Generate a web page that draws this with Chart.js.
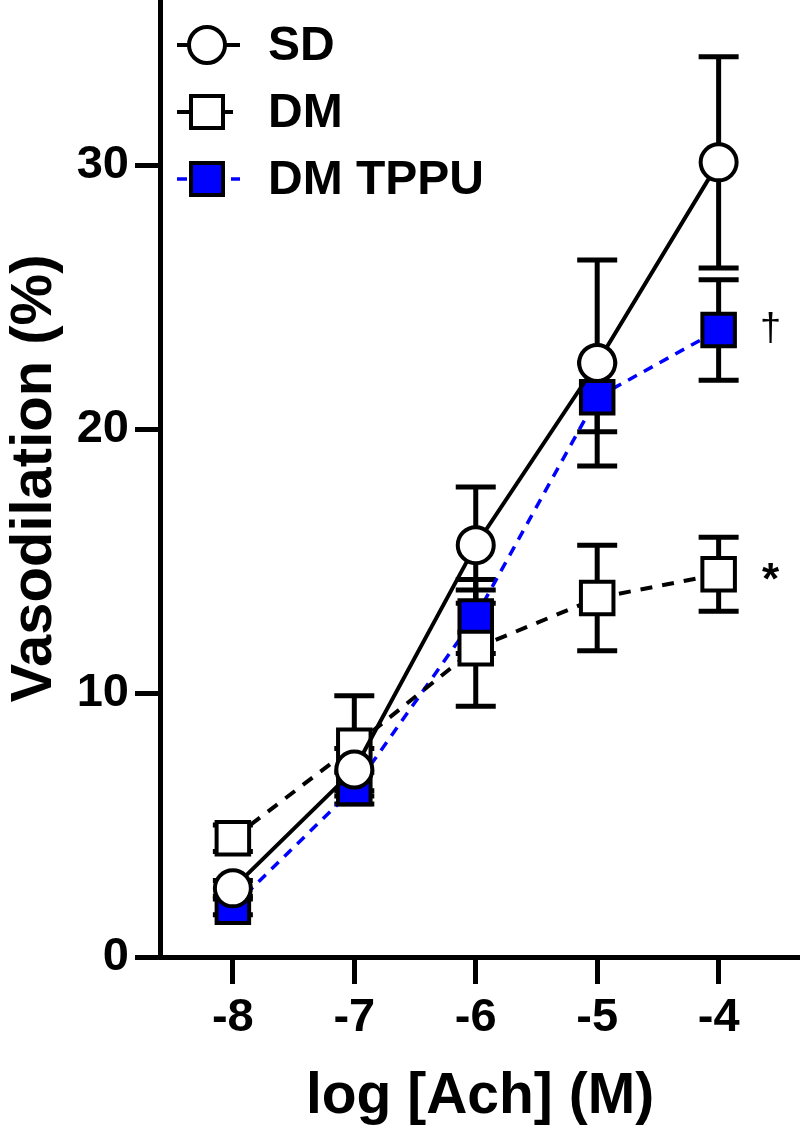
<!DOCTYPE html>
<html>
<head>
<meta charset="utf-8">
<script src="https://cdn.jsdelivr.net/npm/chart.js@4/dist/chart.umd.min.js"></script>
<style>
  html, body { margin: 0; padding: 0; background: #fff; }
  #wrap { width: 800px; height: 1131px; }
</style>
</head>
<body>
<div id="wrap"><canvas id="chart" width="800" height="1131"></canvas></div>
<script>
// log [Ach] (M) doses
const doses = [-8, -7, -6, -5, -4];

// mean vasodilation (%) and error per group
const sdMean = [2.6, 7.1, 15.6, 22.5, 30.1];
const sdErr = [0.3, 0.8, 2.2, 3.9, 4.0];
const dmMean = [4.5, 8.0, 11.7, 13.6, 14.5];
const dmErr = [0.5, 1.9, 2.2, 2.0, 1.4];
const tppuMean = [1.9, 6.4, 12.9, 21.2, 23.75];
const tppuErr = [0.3, 0.6, 1.4, 1.3, 1.9];

const yTicks = [0, 10, 20, 30];
const groupNames = ["SD", "DM", "DM TPPU"];
const marks = [{ text: "\u2020", group: 2 }, { text: "*", group: 1 }];

const FONT = "'Liberation Sans', Arial, sans-serif";
const BLUE = "#0000ff";

const toPoints = (ys) => doses.map((x, i) => ({ x: x, y: ys[i] }));
const errs = [sdErr, dmErr, tppuErr];

// error bars, drawn under the lines and markers
const errorBarPlugin = {
  id: "errorBars",
  beforeDatasetsDraw(chart) {
    const ctx = chart.ctx;
    const xs = chart.scales.x, ys = chart.scales.y;
    ctx.save();
    ctx.strokeStyle = "#000";
    ctx.lineWidth = 5;
    ctx.lineCap = "butt";
    chart.data.datasets.forEach((ds, di) => {
      ds.data.forEach((p, i) => {
        const e = errs[di][i];
        const px = xs.getPixelForValue(p.x);
        const top = ys.getPixelForValue(p.y + e);
        const bot = ys.getPixelForValue(p.y - e);
        ctx.beginPath();
        ctx.moveTo(px, top); ctx.lineTo(px, bot);
        ctx.moveTo(px - 20, top); ctx.lineTo(px + 20, top);
        ctx.moveTo(px - 20, bot); ctx.lineTo(px + 20, bot);
        ctx.stroke();
      });
    });
    ctx.restore();
  }
};

// legend top-left and significance marks next to the last points
const legendPlugin = {
  id: "customLegend",
  afterDraw(chart) {
    const ctx = chart.ctx;
    ctx.save();
    chart.data.datasets.forEach((ds, i) => {
      const y = 45 + i * 67;
      ctx.strokeStyle = ds.borderColor;
      ctx.lineWidth = ds.borderWidth;
      ctx.setLineDash(ds.borderDash || []);
      ctx.beginPath();
      ctx.moveTo(177, y); ctx.lineTo(240, y);
      ctx.stroke();
      ctx.setLineDash([]);
      ctx.fillStyle = ds.pointBackgroundColor;
      ctx.strokeStyle = "#000";
      ctx.lineWidth = 4;
      ctx.beginPath();
      if (ds.pointStyle === "circle") {
        ctx.arc(207, y, 18, 0, Math.PI * 2);
      } else {
        ctx.rect(191, y - 16, 32, 32);
      }
      ctx.fill(); ctx.stroke();
      ctx.fillStyle = "#000";
      ctx.font = "bold 48px " + FONT;
      ctx.textBaseline = "middle";
      ctx.fillText(groupNames[i], 268, y + 2);
    });

    const xs = chart.scales.x, ys = chart.scales.y;
    marks.forEach((m) => {
      const ds = chart.data.datasets[m.group];
      const last = ds.data[ds.data.length - 1];
      ctx.font = (m.text === "*" ? "bold 44px " : "38px ") + FONT;
      ctx.textAlign = "center";
      ctx.textBaseline = "middle";
      const dy = m.text === "*" ? 8 : 0;
      ctx.fillText(m.text, xs.getPixelForValue(last.x) + 52, ys.getPixelForValue(last.y) + dy);
    });
    ctx.restore();
  }
};

new Chart(document.getElementById("chart"), {
  type: "line",
  data: {
    datasets: [
      {
        label: groupNames[0],
        data: toPoints(sdMean),
        borderColor: "#000",
        borderWidth: 4,
        pointStyle: "circle",
        pointRadius: 18,
        pointBorderWidth: 4,
        pointBorderColor: "#000",
        pointBackgroundColor: "#fff",
        clip: false,
      },
      {
        label: groupNames[1],
        data: toPoints(dmMean),
        borderColor: "#000",
        borderWidth: 4,
        borderDash: [12, 10],
        pointStyle: "rect",
        pointRadius: 23,
        pointBorderWidth: 4,
        pointBorderColor: "#000",
        pointBackgroundColor: "#fff",
        clip: false,
      },
      {
        label: groupNames[2],
        data: toPoints(tppuMean),
        borderColor: BLUE,
        borderWidth: 3.5,
        borderDash: [10, 8],
        pointStyle: "rect",
        pointRadius: 23,
        pointBorderWidth: 4,
        pointBorderColor: "#000",
        pointBackgroundColor: BLUE,
        clip: false,
      }
    ]
  },
  options: {
    responsive: false,
    animation: false,
    events: [],
    layout: { padding: 0, autoPadding: false },
    plugins: {
      legend: { display: false },
      tooltip: { enabled: false },
    },
    scales: {
      x: {
        type: "linear",
        min: -8.6,
        max: -3.33,
        afterBuildTicks: (s) => { s.ticks = doses.map((v) => ({ value: v })); },
        afterFit: (s) => { s.height = 174; s.paddingLeft = 0; s.paddingRight = 0; },
        grid: { drawOnChartArea: false, drawTicks: true, tickLength: 27, tickWidth: 5, color: "#000" },
        border: { display: true, width: 5, color: "#000" },
        ticks: { color: "#000", padding: 6, font: { family: FONT, size: 47, weight: "bold" } },
        title: {
          display: true,
          text: "log [Ach] (M)",
          color: "#000",
          padding: { top: 6, bottom: 0 },
          font: { family: FONT, size: 57, weight: "bold" },
        },
      },
      y: {
        min: 0,
        max: 36.25,
        afterBuildTicks: (s) => { s.ticks = yTicks.map((v) => ({ value: v })); },
        afterFit: (s) => { s.width = 160; s.paddingTop = 0; s.paddingBottom = 0; },
        grid: { drawOnChartArea: false, drawTicks: true, tickLength: 25, tickWidth: 5, color: "#000" },
        border: { display: true, width: 5, color: "#000" },
        ticks: { color: "#000", padding: 6, font: { family: FONT, size: 47, weight: "bold" } },
        title: {
          display: true,
          text: "Vasodilation (%)",
          color: "#000",
          padding: { top: 0, bottom: 0 },
          font: { family: FONT, size: 58, weight: "bold" },
        },
      },
    },
  },
  plugins: [errorBarPlugin, legendPlugin],
});
</script>
</body>
</html>
